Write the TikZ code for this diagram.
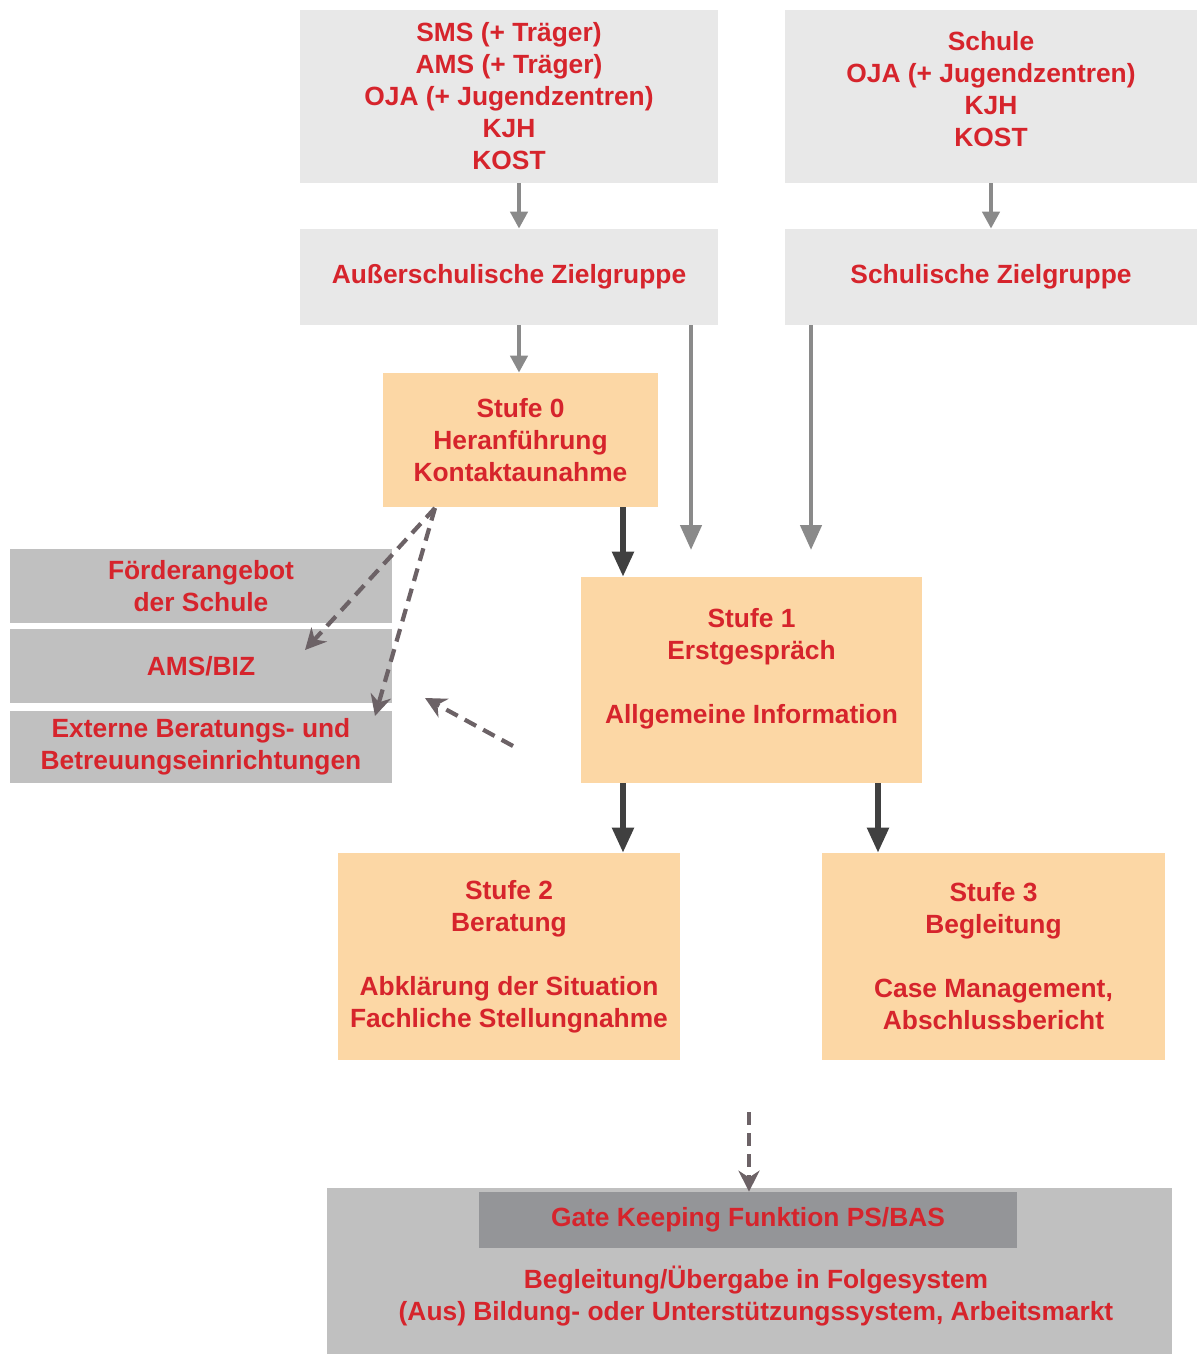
\documentclass[tikz,border=0pt]{standalone}
\usepackage{fontspec}
\setmainfont{Liberation Sans}
\usepackage{tikz}
\usetikzlibrary{positioning, calc}
\usetikzlibrary{arrows.meta}
\definecolor{boxred}{RGB}{214,36,44}
\definecolor{lightbox}{RGB}{232,232,232}
\definecolor{peach}{RGB}{252,215,165}
\definecolor{midbox}{RGB}{192,192,192}
\definecolor{gatebox}{RGB}{148,149,152}
\definecolor{arrowgrey}{RGB}{138,138,138}
\definecolor{darkgrey}{RGB}{64,64,64}
\definecolor{dashgrey}{RGB}{108,98,102}
\tikzstyle{box}  =
[
	rectangle,inner sep=0pt,align=center,text=boxred,
	font=\bfseries\fontsize{15}{18.2}\selectfont
]
\tikzstyle{greybox} = [box, fill=lightbox]
\tikzstyle{stufebox} = [box, fill=peach]
\tikzstyle{midgreybox} = [box, fill=midbox]
\tikzstyle{greyarrow} =
[
	draw=arrowgrey, line width=2.6pt, -{Triangle[length=0.5cm,width=0.42cm]}
]
\tikzstyle{smallarrow} =
[
	draw=arrowgrey, line width=2.4pt, -{Triangle[length=0.34cm,width=0.34cm]}
]
\tikzstyle{darkarrow} =
[
	draw=darkgrey, line width=3pt, -{Triangle[length=0.5cm,width=0.42cm]}
]
\tikzstyle{dasharrow} =
[
	draw=dashgrey, line width=2.4pt, dash pattern=on 0.26cm off 0.16cm,
	-{Stealth[length=0.42cm,width=0.42cm]}
]
\begin{document}
\begin{tikzpicture}[x=0.02cm,y=-0.02cm]

\useasboundingbox (0,0) rectangle (1197,1354);

% sources and target groups
\node[greybox, minimum width=8.36cm, minimum height=3.46cm] (Q1) at (509,96.5)
	{SMS (+ Träger)\\AMS (+ Träger)\\OJA (+ Jugendzentren)\\KJH\\KOST};
\node[greybox, minimum width=8.24cm, minimum height=3.46cm, text depth=0.32cm] (Q2) at (991,96.5)
	{Schule\\OJA (+ Jugendzentren)\\KJH\\KOST};
\node[greybox, minimum width=8.36cm, minimum height=1.92cm] (Z1) at (509,277)
	{Außerschulische Zielgruppe};
\node[greybox, minimum width=8.24cm, minimum height=1.92cm] (Z2) at (991,277)
	{Schulische Zielgruppe};

% stages
\node[stufebox, minimum width=5.5cm, minimum height=2.68cm] (S0) at (520.5,440)
	{Stufe 0\\Heranführung\\Kontaktaunahme};
\node[stufebox, minimum width=6.82cm, minimum height=4.12cm, text depth=0.55cm] (S1) at (751.5,680)
	{Stufe 1\\Erstgespräch\\[18.2pt]Allgemeine Information};
\node[stufebox, minimum width=6.84cm, minimum height=4.14cm] (S2) at (509,956.5)
	{Stufe 2\\Beratung\\[18.2pt]Abklärung der Situation\\Fachliche Stellungnahme};
\node[stufebox, minimum width=6.86cm, minimum height=4.14cm] (S3) at (993.5,956.5)
	{Stufe 3\\Begleitung\\[18.2pt]Case Management,\\Abschlussbericht};

% other offers
\node[midgreybox, minimum width=7.64cm, minimum height=1.48cm] (F1) at (201,586)
	{Förderangebot\\der Schule};
\node[midgreybox, minimum width=7.64cm, minimum height=1.48cm] (F2) at (201,666)
	{AMS/BIZ};
\node[midgreybox, minimum width=7.64cm, minimum height=1.44cm] (F3) at (201,747)
	{Externe Beratungs- und\\Betreuungseinrichtungen};

% follow-up system
\node[midgreybox, minimum width=16.9cm, minimum height=3.32cm] (G0) at (749.5,1271) {};
\node[box, fill=gatebox, minimum width=10.76cm, minimum height=1.12cm] (G1) at (748,1220)
	{Gate Keeping Funktion PS/BAS};
\node[box] (G2) at (756,1296)
	{Begleitung/Übergabe in Folgesystem\\(Aus) Bildung- oder Unterstützungssystem, Arbeitsmarkt};

\coordinate (c0) at (519,0);
\coordinate (c1) at (623,0);
\coordinate (c2) at (878,0);
\coordinate (a1) at (691,550);
\coordinate (a2) at (811,550);
\coordinate (d0) at (435,508);
\coordinate (e1) at (305,650);
\coordinate (e2) at (375,716);
\coordinate (e3) at (513,746);
\coordinate (e4) at (425,698);
\coordinate (e5) at (749,1112);

\path
	(Q1.south -| c0) edge[smallarrow] (Z1.north -| c0)
	(Q2.south) edge[smallarrow] (Z2.north)
	(Z1.south -| c0) edge[smallarrow] (S0.north -| c0);

\path
	(Z1.south -| a1) edge[greyarrow] (a1)
	(Z2.south -| a2) edge[greyarrow] (a2);

\path
	(S0.south -| c1) edge[darkarrow] (S1.north -| c1)
	(S1.south -| c1) edge[darkarrow] (S2.north -| c1)
	(S1.south -| c2) edge[darkarrow] (S3.north -| c2);

\path
	(d0) edge[dasharrow] (e1)
	(d0) edge[dasharrow] (e2)
	(e3) edge[dasharrow] (e4)
	(e5) edge[dasharrow] (G1.north -| e5);

\end{tikzpicture}
\end{document}
